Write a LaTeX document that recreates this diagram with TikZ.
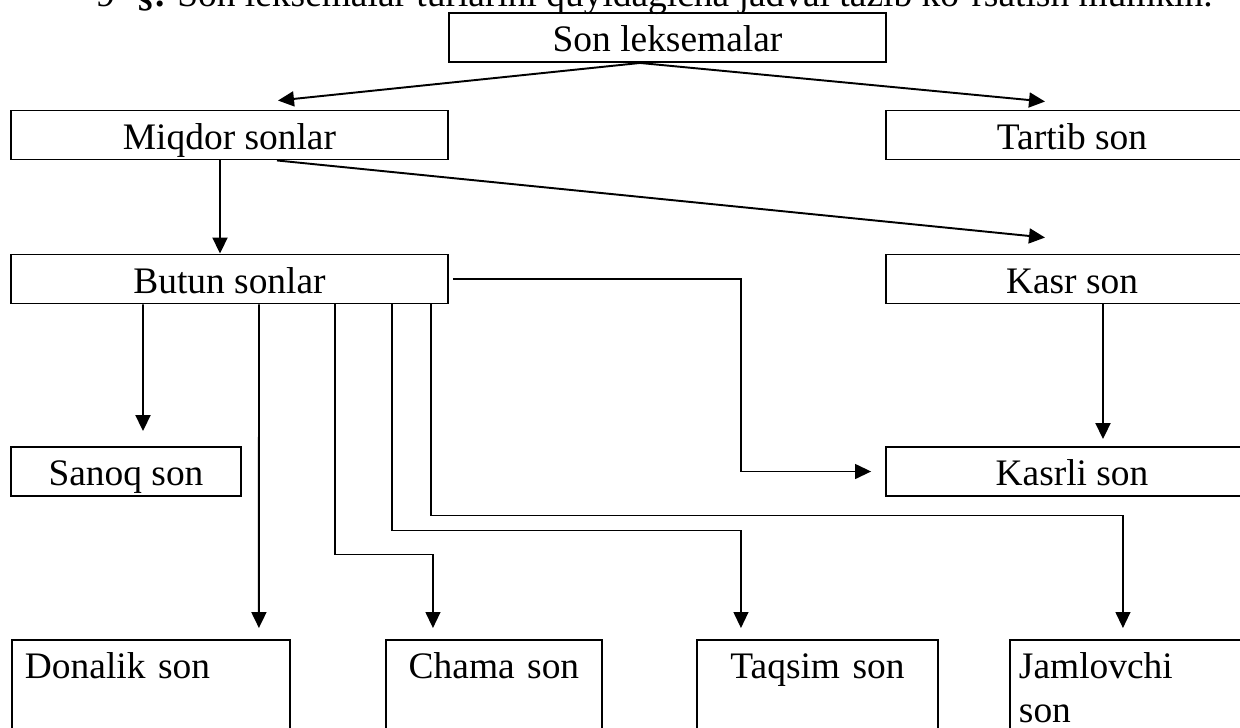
\documentclass[tikz,border=0pt]{standalone}
\usepackage{fontspec}
\setmainfont{Liberation Serif}
\usetikzlibrary{arrows.meta}

\begin{document}
\begin{tikzpicture}[x=0.02cm,y=-0.02cm,font=\fontsize{21.3pt}{25pt}\selectfont]
  \useasboundingbox (0,0) rectangle (1240,727);
  \clip (0,0) rectangle (1240,727);
  % heading line, only its lower part is on the page
  \node[anchor=base west,inner sep=0pt] (head) at (96,6)
    {9- \textbf{§.} Son leksemalar turlarini quyidagicha jadval tazib ko'rsatish mumkin.};
  \begin{scope}[every node/.style={draw,line width=1.1pt,rectangle,inner sep=0pt,
      minimum height=0.98cm,text height=0.66cm,text depth=0.1cm}]
    \node[minimum width=8.74cm] (son) at (667.5,37.5) {Son leksemalar};
    \node[minimum width=8.74cm] (miqdor) at (229.5,135) {Miqdor sonlar};
    \node[minimum width=7.44cm] (tartib) at (1072,135) {Tartib son};
    \node[minimum width=8.74cm] (butun) at (229.5,279) {Butun sonlar};
    \node[minimum width=7.44cm] (kasr) at (1072,279) {Kasr son};
    \node[minimum width=4.6cm] (sanoq) at (126,471.5) {Sanoq son};
    \node[minimum width=7.44cm] (kasrli) at (1072,471.5) {Kasrli son};
  \end{scope}
  \begin{scope}[every node/.style={draw,line width=1.1pt,anchor=north west,align=left,
      inner ysep=0.2cm,text height=0.58cm,text depth=3cm}]
    \node[inner xsep=0.26cm,text width=5.04cm] (donalik) at (11,639) {Donalik son};
    \node[inner xsep=0.2cm,text width=3.92cm,align=center] (chama) at (385,639) {Chama son};
    \node[inner xsep=0.2cm,text width=4.42cm,align=center] (taqsim) at (696,639) {Taqsim son};
    \node[inner xsep=0.18cm,text width=4.66cm] (jamlovchi) at (1009,639) {Jamlovchi\\son};
  \end{scope}
  \begin{scope}[every edge/.style={draw=black,line width=1.1pt,-{Triangle[length=0.32cm,width=0.3cm]}}]
    \path ([xshift=-0.55cm]son.south) edge ([xshift=0.97cm,yshift=0.18cm]miqdor.north);
    \path ([xshift=-0.55cm]son.south) edge ([xshift=-0.54cm,yshift=0.16cm]tartib.north);
    \path ([xshift=-0.19cm]miqdor.south) edge ([xshift=-0.19cm]butun.north);
    \path ([xshift=0.95cm]miqdor.south) edge ([xshift=-0.54cm,yshift=0.32cm]kasr.north);
    \path ([xshift=0.62cm]kasr.south) edge ([xshift=0.62cm,yshift=0.14cm]kasrli.north);
    \path ([xshift=-1.73cm]butun.south) edge ([xshift=0.34cm,yshift=0.3cm]sanoq.north);
    \path ([xshift=0.59cm]butun.south) edge ([xshift=2.16cm,yshift=0.22cm]donalik.north);
  \end{scope}
  \begin{scope}[line width=0.75pt,>={Triangle[length=0.32cm,width=0.3cm]}]
    \draw[->] ([xshift=2.11cm]butun.south) -- ++(0,250) -| ([xshift=-1.22cm,yshift=0.22cm]chama.north);
    \draw[->] ([xshift=3.25cm]butun.south) -- ++(0,226) -| ([xshift=-1.53cm,yshift=0.22cm]taqsim.north);
    \draw[->] ([xshift=4.03cm]butun.south) -- ++(0,211) -| ([xshift=-0.25cm,yshift=0.22cm]jamlovchi.north);
    \draw[->] ([xshift=0.08cm]butun.east) -- ++(288,0) |- ([xshift=-0.28cm]kasrli.west);
  \end{scope}
\end{tikzpicture}
\end{document}
